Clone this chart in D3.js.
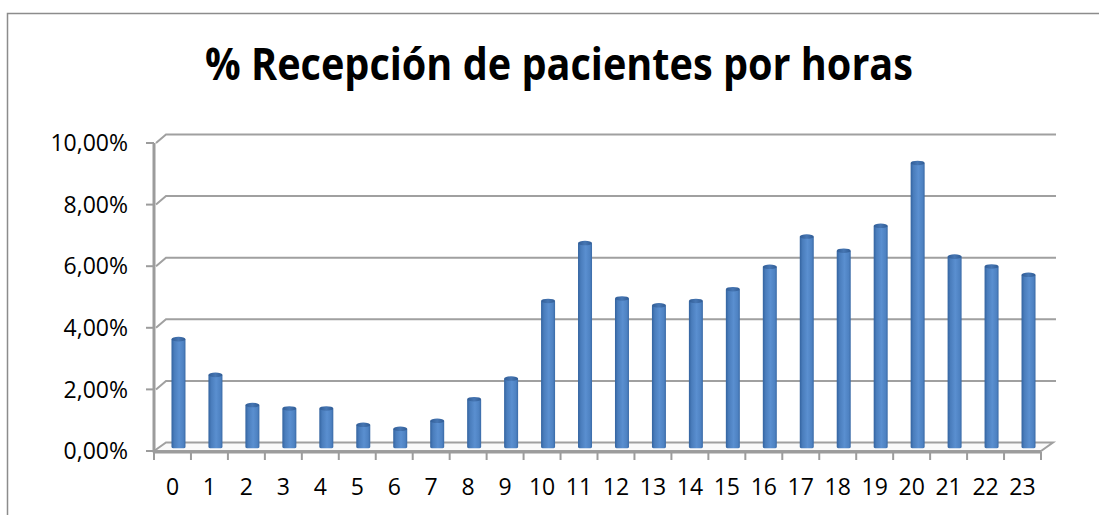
<!DOCTYPE html>
<html>
<head>
<meta charset="utf-8">
<script src="https://cdn.jsdelivr.net/npm/d3@7"></script>
<style>
  html, body { margin: 0; padding: 0; background: #fff; }
  svg { display: block; }
  text { font-family: "Open Sans", "Liberation Sans", sans-serif; fill: #000; }
</style>
</head>
<body>
<svg id="chart" width="1099" height="515"></svg>
<script>
const title = "% Recepción de pacientes por horas";
const hours = ["0","1","2","3","4","5","6","7","8","9","10","11","12","13","14","15","16","17","18","19","20","21","22","23"];
const percents = [3.52, 2.36, 1.38, 1.27, 1.27, 0.74, 0.61, 0.87, 1.57, 2.24, 4.76, 6.64, 4.84, 4.62, 4.76, 5.14, 5.87, 6.85, 6.39, 7.20, 9.24, 6.20, 5.88, 5.61];
const yTicks = [0, 2, 4, 6, 8, 10];

const svg = d3.select("#chart");
const DX = 12, DY = -8.5;     // 3D depth offset
const gridColor = "#a0a0a0";
const axisColor = "#9c9c9c";

const x = d3.scaleBand().domain(hours).range([154, 1041]).paddingInner(0).paddingOuter(0);
const y = d3.scaleLinear().domain([0, 10]).range([451, 143]);

// outer frame
svg.append("rect").attr("x", 7.5).attr("y", 13.5).attr("width", 1200).attr("height", 600)
  .attr("fill", "none").attr("stroke", "#8c8c8c").attr("stroke-width", 1.5);

// title
const t = svg.append("text").attr("x", 559).attr("y", 80).attr("text-anchor", "middle")
  .attr("font-size", 44).attr("font-weight", "bold").text(title);
t.attr("textLength", 708).attr("lengthAdjust", "spacingAndGlyphs");

// back wall gridlines with diagonal stub from the front axis
const x0 = x.range()[0], x1 = x.range()[1];
yTicks.filter(v => v > 0).forEach(v => {
  svg.append("path")
    .attr("d", `M${x0 + 2},${y(v)} L${x0 + DX},${y(v) + DY} L${x1 + DX + 3},${y(v) + DY}`)
    .attr("fill", "none").attr("stroke", gridColor).attr("stroke-width", 2);
});

// floor
svg.append("path")
  .attr("d", `M${x0},${y(0)} L${x0 + DX},${y(0) + DY} L${x1 + DX},${y(0) + DY} L${x1},${y(0)} Z`)
  .attr("fill", "#fafafa").attr("stroke", gridColor).attr("stroke-width", 2);

// gradient for bars
const defs = svg.append("defs");
const g = defs.append("linearGradient").attr("id", "barGrad").attr("x1", "0").attr("x2", "1").attr("y1", "0").attr("y2", "0");
g.append("stop").attr("offset", "0%").attr("stop-color", "#33639f");
g.append("stop").attr("offset", "20%").attr("stop-color", "#4a7dbc");
g.append("stop").attr("offset", "55%").attr("stop-color", "#5a8fd0");
g.append("stop").attr("offset", "85%").attr("stop-color", "#4e82c2");
g.append("stop").attr("offset", "100%").attr("stop-color", "#3a6aa6");
const gc = defs.append("linearGradient").attr("id", "capGrad").attr("x1", "0").attr("x2", "1").attr("y1", "0").attr("y2", "0");
gc.append("stop").attr("offset", "0%").attr("stop-color", "#305c95");
gc.append("stop").attr("offset", "50%").attr("stop-color", "#4676b3");
gc.append("stop").attr("offset", "100%").attr("stop-color", "#305c95");

// bars
const BW = 14;
const barsG = svg.append("g");
hours.forEach((h, i) => {
  const v = percents[i];
  const cx = x(h) + x.bandwidth() / 2 + DX / 2;
  const top = y(v) + DY / 2 - 1.5;         // top edge of the cap
  const bottom = y(0) + DY / 2 + 1.5;
  barsG.append("path")
    .attr("d", `M${cx - BW/2},${top + 2.5} L${cx - BW/2},${bottom - 1.5} Q${cx - BW/2},${bottom} ${cx - BW/2 + 3},${bottom} L${cx + BW/2 - 3},${bottom} Q${cx + BW/2},${bottom} ${cx + BW/2},${bottom - 1.5} L${cx + BW/2},${top + 2.5} Z`)
    .attr("fill", "url(#barGrad)");
  barsG.append("ellipse").attr("cx", cx).attr("cy", top + 2.3).attr("rx", BW / 2).attr("ry", 2.3)
    .attr("fill", "url(#capGrad)");
});

// front axes
svg.append("line").attr("x1", x0).attr("x2", x0).attr("y1", y(10)).attr("y2", y(0) + 1.5)
  .attr("stroke", axisColor).attr("stroke-width", 3);
svg.append("line").attr("x1", x0).attr("x2", x1).attr("y1", y(0) + 1).attr("y2", y(0) + 1)
  .attr("stroke", axisColor).attr("stroke-width", 3);

// y ticks and labels
yTicks.forEach(v => {
  svg.append("line").attr("x1", x0 - 8).attr("x2", x0).attr("y1", y(v)).attr("y2", y(v))
    .attr("stroke", axisColor).attr("stroke-width", 2);
  svg.append("text").attr("x", 128).attr("y", y(v)).attr("dy", "0.36em").attr("text-anchor", "end")
    .attr("font-size", 23).text(d3.format(".2f")(v).replace(".", ",") + "%");
});

// x ticks and labels
const bounds = hours.map(h => x(h)).concat([x1]);
bounds.forEach(bx => {
  svg.append("line").attr("x1", bx).attr("x2", bx).attr("y1", y(0) + 1).attr("y2", y(0) + 9)
    .attr("stroke", axisColor).attr("stroke-width", 2);
});
hours.forEach(h => {
  svg.append("text").attr("x", x(h) + x.bandwidth() / 2).attr("y", 495).attr("text-anchor", "middle")
    .attr("font-size", 23).text(h);
});
</script>
</body>
</html>
